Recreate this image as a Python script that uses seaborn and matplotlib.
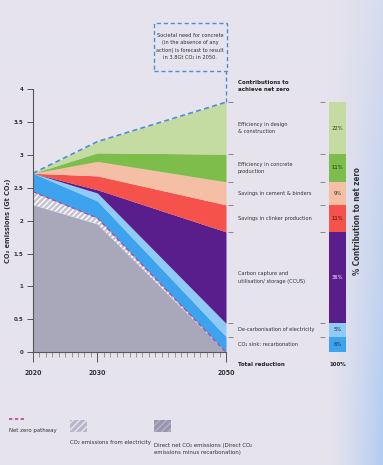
import numpy as np
import pandas as pd
import matplotlib
matplotlib.use("Agg")
import matplotlib.pyplot as plt
from matplotlib.patches import Rectangle
from matplotlib.colors import to_rgb
import seaborn as sns

# ---- data (Gt CO2) ---------------------------------------------------------
years = [2020, 2030, 2050]
direct_net = [2.24, 1.95, 0.00]       # direct net CO2 emissions (grey)
electricity = [0.20, 0.09, 0.00]      # CO2 from electricity (hatched)
recarbonation = [0.28, 0.26, 0.24]    # CO2 sink: recarbonation
decarb_elec = [0.00, 0.12, 0.20]      # de-carbonisation of electricity
ccus = [0.00, 0.05, 1.39]             # carbon capture (CCUS)
clinker = [0.00, 0.21, 0.41]          # savings in clinker production
cement = [0.00, 0.22, 0.35]           # savings in cement & binders
eff_concrete = [0.00, 0.13, 0.42]     # efficiency in concrete production
eff_design = [0.00, 0.17, 0.79]       # efficiency in design & construction

contrib_labels = ["CO\u2082 sink: recarbonation",
                  "De-carbonisation of electricity",
                  "Carbon capture and\nutilisation/ storage (CCUS)",
                  "Savings in clinker production",
                  "Savings in cement & binders",
                  "Efficiency in concrete\nproduction",
                  "Efficiency in design\n& construction"]
contrib_pct = ["6%", "5%", "36%", "11%", "9%", "11%", "22%"]

colors = ["#3ea3ee", "#8fcbf4", "#5a1e8c", "#f4524b", "#f5bfa5", "#7dbd4c", "#c4dba2"]
pct_colors = ["#1b2a40", "#1b2a40", "white", "#3a1010", "#3a2a20", "#1e3010", "#2e3a20"]

W, H = 383, 465
BG = "#e6e3ed"

sns.set_theme(style="ticks")
plt.rcParams['font.family'] = ['DejaVu Sans']
plt.rcParams['font.stretch'] = 'condensed'
plt.rcParams['hatch.color'] = 'white'
plt.rcParams['hatch.linewidth'] = 1.0

fig = plt.figure(figsize=(W / 100, H / 100), dpi=100, facecolor=BG)

# soft bluish light on the right edge of the photographed page
bg_ax = fig.add_axes([0, 0, 1, 1], zorder=-10)
gx = np.linspace(0, 1, W)[None, :]
gy = np.linspace(0, 1, H)[:, None]
glow = np.clip((gx - 0.86) / 0.14, 0, 1) ** 1.3 * (0.3 + 0.7 * gy) * 0.85
glow = np.clip(glow, 0, 1)[..., None]
base = np.array(to_rgb(BG))
blue = np.array(to_rgb("#a9c8f2"))
bg_ax.imshow(base * (1 - glow) + blue * glow, aspect="auto", extent=[0, 1, 0, 1],
             origin="upper")
bg_ax.axis("off")


def px(x, y):
    # pixel position in the picture -> figure fraction
    return x / W, 1 - y / H


ax_bottom = 1 - 352.3 / H
ax_height = (352.3 - 89) / H
ax = fig.add_axes([33 / W, ax_bottom, (226 - 33) / W, ax_height])
ax.set_facecolor("none")

layers = [direct_net, electricity, recarbonation, decarb_elec, ccus,
          clinker, cement, eff_concrete, eff_design]
layer_cols = ["#a9a8bb", "#c6c4d3"] + colors
polys = ax.stackplot(years, *layers, colors=layer_cols, linewidth=0)
polys[1].set_hatch("//////")
polys[1].set_edgecolor("white")

totals = np.sum(layers, axis=0)
net_zero = np.array(direct_net) + np.array(electricity)

df = pd.DataFrame({"year": years, "total": totals, "net_zero": net_zero})
sns.lineplot(data=df, x="year", y="total", ax=ax, color="#4d8fd4",
             linestyle=(0, (3, 2)), linewidth=1.2)
sns.lineplot(data=df, x="year", y="net_zero", ax=ax, color="#b24f98",
             linestyle=(0, (3, 2)), linewidth=1.0)
ax.vlines(years[-1], 0, totals[-1], color="#9a98a8", linewidth=0.6)
ax.plot([years[-1], years[-1]], [totals[-1], 4.28], color="#4d8fd4",
        linestyle=(0, (3, 2)), linewidth=1.0, clip_on=False)

ax.set_xlim(2020, 2050)
ax.set_ylim(0, 4)
ax.set_yticks([0, 0.5, 1, 1.5, 2, 2.5, 3, 3.5, 4])
ax.set_yticklabels(["0", "0.5", "1", "1.5", "2", "2.5", "3", "3.5", "4"],
                   fontsize=4.4, fontweight="bold", color="#333")
ax.set_xticks(years)
ax.set_xticklabels([str(y) for y in years], fontsize=5.0, fontweight="bold", color="#333")
ax.set_xticks(range(2020, 2051), minor=True)
ax.tick_params(axis="y", length=4.5, width=0.7, color="#555", pad=2.5)
ax.tick_params(axis="x", which="major", length=7, width=0.7, color="#555", pad=6)
ax.tick_params(axis="x", which="minor", length=3.5, width=0.5, color="#777")
for s in ["top", "right"]:
    ax.spines[s].set_visible(False)
for s in ["left", "bottom"]:
    ax.spines[s].set_color("#555")
    ax.spines[s].set_linewidth(0.8)
ax.set_xlabel("")
ax.set_ylabel("CO\u2082 emissions (Gt CO\u2082)", fontsize=5.2, fontweight="bold",
              color="#333")
ax.yaxis.set_label_coords(-22 / 193, 0.5)

# ---- right-hand panel (same vertical scale) ---------------------------------
axr = fig.add_axes([226 / W, ax_bottom, (W - 226) / W, ax_height])
axr.set_xlim(226, W)
axr.set_ylim(0, 4)
axr.axis("off")

seg_2050 = [recarbonation[-1], decarb_elec[-1], ccus[-1], clinker[-1],
            cement[-1], eff_concrete[-1], eff_design[-1]]
bottoms = np.concatenate([[0], np.cumsum(seg_2050)[:-1]])
bounds = np.concatenate([[0], np.cumsum(seg_2050)])

axr.bar(337.5, seg_2050, bottom=bottoms, width=17, color=colors, linewidth=0)
axr.hlines(bounds, 228, 233, color="#777", linewidth=0.6)
axr.hlines(bounds, 320, 325, color="#777", linewidth=0.6)

for lab, pct, b, h, pc in zip(contrib_labels, contrib_pct, bottoms, seg_2050, pct_colors):
    axr.text(238, b + h / 2, lab, fontsize=4.1, color="#333", va="center",
             ha="left", linespacing=1.6)
    axr.text(337.5, b + h / 2, pct, fontsize=4.2, color=pc, va="center", ha="center")

axr.text(238, 4.05, "Contributions to\nachieve net zero", fontsize=4.4,
         fontweight="bold", color="#222", va="center", ha="left", linespacing=1.5)
axr.text(238, -0.19, "Total reduction", fontsize=4.4, fontweight="bold",
         color="#222", va="center", ha="left")
axr.text(337.5, -0.19, "100%", fontsize=4.4, fontweight="bold",
         color="#222", va="center", ha="center")
axr.text(357, 2.0, "% Contribution to net zero", fontsize=5.8, fontweight="bold",
         color="#333", rotation=90, va="center", ha="center")

# ---- annotation box at the top ----------------------------------------------
x0, y0 = px(154, 70.7)
x1, y1 = px(226.5, 22.7)
fig.patches.append(Rectangle((x0, y0), x1 - x0, y1 - y0, transform=fig.transFigure,
                             fill=False, edgecolor="#4d8fd4", linewidth=1.0,
                             linestyle=(0, (3, 2))))
fig.text(*px(190, 46.5), "Societal need for concrete\n(in the absence of any\n"
         "action) is forecast to result\nin 3.8Gt CO\u2082 in 2050.",
         fontsize=4.1, color="#333", ha="center", va="center", linespacing=1.6)

# ---- legend at the bottom ---------------------------------------------------
lx, ly = px(9, 419)
lx2, _ = px(25, 419)
fig.add_artist(plt.Line2D([lx, lx2], [ly, ly], transform=fig.transFigure,
                          color="#c2409a", linestyle=(0, (2, 1.5)), linewidth=1.2))
fig.text(*px(9, 430), "Net zero pathway", fontsize=4.3, color="#333", va="center")

sx, sy = px(70, 432)
fig.patches.append(Rectangle((sx, sy), 17 / W, 12 / H, transform=fig.transFigure,
                             facecolor="#b9b8cb", edgecolor="#e6e5ee", hatch="/////",
                             linewidth=0))
fig.text(*px(70, 442), "CO\u2082 emissions from electricity", fontsize=4.3,
         color="#333", va="center")

sx, sy = px(154, 432)
fig.patches.append(Rectangle((sx, sy), 17 / W, 12 / H, transform=fig.transFigure,
                             facecolor="#9896ad", edgecolor="#b5b3c6", hatch="/////",
                             linewidth=0))
fig.text(*px(154, 449), "Direct net CO\u2082 emissions (Direct CO\u2082\n"
         "emissions minus recarbonation)", fontsize=4.3, color="#333",
         va="center", linespacing=1.5)

fig.savefig("out.png", dpi=100, facecolor=BG)
